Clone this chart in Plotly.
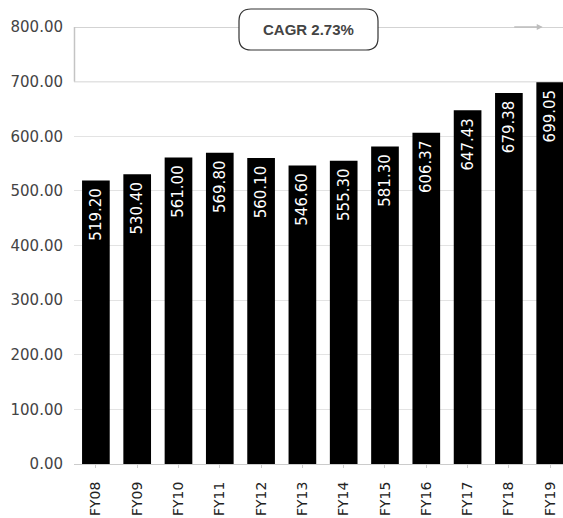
import plotly.graph_objects as go

categories = ["FY08", "FY09", "FY10", "FY11", "FY12", "FY13", "FY14", "FY15", "FY16", "FY17", "FY18", "FY19"]
values = [519.20, 530.40, 561.00, 569.80, 560.10, 546.60, 555.30, 581.30, 606.37, 647.43, 679.38, 699.05]
y_ticks = [0, 100, 200, 300, 400, 500, 600, 700, 800]
cagr_label = "CAGR 2.73%"

W, H = 563, 518
ML, MR, MT, MB = 74, 0, 27, 54
PW, PH = W - ML - MR, H - MT - MB

def px_x(px):
    return (px - ML) / PW

def px_y(py):
    return (H - MB - py) / PH

fig = go.Figure()
fig.add_trace(go.Bar(
    x=list(range(len(categories))),
    y=values,
    width=0.67,
    marker=dict(color="#000000", line=dict(width=0)),
    text=[f"{v:.2f}\u00a0" for v in values],
    textposition="inside",
    insidetextanchor="end",
    textangle=-90,
    textfont=dict(family="DejaVu Sans", size=15, color="#ffffff"),
    constraintext="none",
    cliponaxis=False,
    hoverinfo="skip",
))

# bracket (rectangle from 700 to 800)
line_col = "#c4c4c4"
fig.add_shape(type="line", xref="paper", yref="y", x0=0, x1=1, y0=800, y1=800,
              line=dict(color=line_col, width=1.5), layer="above")
fig.add_shape(type="line", xref="paper", yref="y", x0=0, x1=1, y0=700, y1=700,
              line=dict(color=line_col, width=1.2), layer="below")
fig.add_shape(type="line", xref="paper", yref="y", x0=0.001, x1=0.001, y0=700, y1=800,
              line=dict(color=line_col, width=1.5), layer="above")
# arrow head on top line
fig.add_annotation(x=10.82, y=800, xref="x", yref="y", ax=-30, ay=0, axref="pixel", ayref="pixel",
                   showarrow=True, arrowhead=2, arrowsize=0.8, arrowwidth=1.5, arrowcolor="#bdbdbd", text="")

# rounded CAGR box
x0, x1 = px_x(239), px_x(378)
y1, y0 = px_y(9), px_y(50)
rx, ry = 12 / PW, 12 / PH
path = (f"M {x0+rx},{y1} L {x1-rx},{y1} Q {x1},{y1} {x1},{y1-ry} "
        f"L {x1},{y0+ry} Q {x1},{y0} {x1-rx},{y0} L {x0+rx},{y0} "
        f"Q {x0},{y0} {x0},{y0+ry} L {x0},{y1-ry} Q {x0},{y1} {x0+rx},{y1} Z")
fig.add_shape(type="path", xref="paper", yref="paper", path=path,
              fillcolor="#ffffff", line=dict(color="#333333", width=1.2), layer="above")
fig.add_annotation(x=(x0 + x1) / 2, y=(y0 + y1) / 2, xref="paper", yref="paper",
                   xanchor="center", yanchor="middle",
                   text=f"<b>{cagr_label}</b>", showarrow=False,
                   font=dict(family="Liberation Sans", size=15, color="#444444"))

fig.update_layout(
    width=W, height=H,
    margin=dict(l=ML, r=MR, t=MT, b=MB, pad=0),
    paper_bgcolor="#ffffff", plot_bgcolor="#ffffff",
    showlegend=False,
    bargap=0.33,
)
fig.update_xaxes(
    range=[-0.53, 11.31],
    tickmode="array", tickvals=list(range(len(categories))), ticktext=categories,
    tickangle=-90,
    tickfont=dict(family="DejaVu Sans", size=14, color="#222222"),
    showgrid=False, zeroline=False,
    showline=True, linecolor="#cccccc", linewidth=1,
    ticks="outside", ticklen=3, tickcolor="#cccccc", tickson="boundaries",
    ticklabelstandoff=8,
)
fig.update_yaxes(
    range=[0, 800],
    tickmode="array", tickvals=y_ticks, tickformat=".2f",
    tickfont=dict(family="DejaVu Sans", size=15, color="#444444"),
    showgrid=True, gridcolor="#e3e3e3", gridwidth=1,
    zeroline=False, showline=False,
    ticklabelstandoff=10,
)

fig.write_html("out.html")
